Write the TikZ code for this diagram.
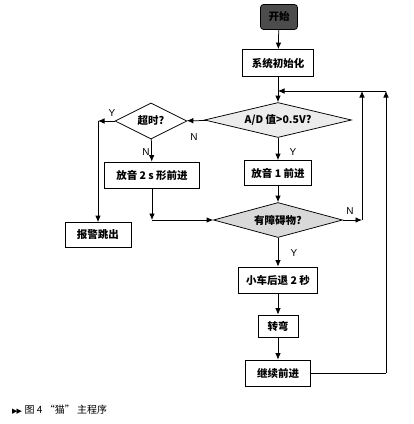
\documentclass[tikz,border=0pt]{standalone}
\usepackage{fontspec}
\setmainfont{Liberation Sans}
\newfontfamily\cjk{Noto Sans CJK SC}
\newfontfamily\symf{DejaVu Sans}
\usetikzlibrary{shapes.geometric,arrows.meta}
\tikzset{
  box/.style={draw,line width=0.75pt,inner sep=0pt,font=\cjk\bfseries\fontsize{10.5}{12}\selectfont},
  dia/.style={draw,diamond,line width=0.75pt,inner sep=0pt,font=\cjk\bfseries\fontsize{10.5}{12}\selectfont},
  arr/.style={line width=0.75pt,-{Latex[length=6.5pt,width=5.5pt]}},
  ln/.style={line width=0.75pt},
  lab/.style={font=\fontsize{10}{12}\selectfont,inner sep=0pt}
}
\begin{document}
\begin{tikzpicture}[x=1pt,y=-1pt]
\useasboundingbox (0,0) rectangle (414,424);
\node[box,fill=black!70,rounded corners=3pt,minimum width=37pt,minimum height=25pt] (start) at (279,17) {开始};
\node[box,minimum width=71pt,minimum height=27pt] (init) at (278,63) {系统初始化};
\coordinate (m) at (278,91);
\node[dia,fill=gray!15,minimum width=147pt,minimum height=35pt,aspect=4.2] (ad) at (278,120) {A/D 值>0.5V?};
\node[dia,minimum width=72pt,minimum height=36pt,aspect=2] (to) at (151,121) {超时?};
\node[box,minimum width=95pt,minimum height=26pt] (p2) at (152,175) {放音 2 s 形前进};
\node[box,minimum width=67pt,minimum height=25pt] (p1) at (278,173) {放音 1 前进};
\node[box,minimum width=66pt,minimum height=25pt] (alarm) at (98,235) {报警跳出};
\node[dia,fill=gray!30,minimum width=129pt,minimum height=35pt,aspect=3.7] (ob) at (278,220) {有障碍物?};
\node[box,minimum width=79pt,minimum height=26pt] (back) at (278,280) {小车后退 2 秒};
\node[box,minimum width=40pt,minimum height=22pt] (turn) at (278,326) {转弯};
\node[box,minimum width=65pt,minimum height=26pt] (cont) at (278,373) {继续前进};
\coordinate (ty) at (98,121);
\coordinate (pc) at (152,220);
\coordinate (on) at (362,220);
\coordinate (onu) at (362,91);
\coordinate (cr) at (386,373);
\coordinate (cru) at (386,91);
\draw[arr] (start) -- (init);
\draw[ln] (init) -- (m);
\draw[arr] (m) -- (ad);
\draw[arr] (ad) -- (to);
\draw[arr] (to) -- (ty);
\draw[arr] (ty) -- (alarm);
\draw[arr] (to) -- (p2);
\draw[arr] (ad) -- (p1);
\draw[arr] (p1) -- (ob);
\draw[arr] (p2) -- (pc);
\draw[arr] (pc) -- (ob);
\draw[arr] (ob) -- (on);
\draw[arr] (on) -- (onu);
\draw[arr] (ob) -- (back);
\draw[arr] (back) -- (turn);
\draw[arr] (turn) -- (cont);
\draw[ln] (cont) -- (cr);
\draw[arr] (cr) -- (cru);
\draw[arr] (cru) -- (m);
\node[lab] (l1) at (112,113) {Y};
\node[lab] (l2) at (146,152) {N};
\node[lab] (l3) at (194,137) {N};
\node[lab] (l4) at (293,152) {Y};
\node[lab] (l5) at (350,211) {N};
\node[lab] (l6) at (294,253) {Y};
\node[anchor=west,inner sep=0pt,font=\fontsize{10}{12}\selectfont] (cap) at (12,410) {{\symf\fontsize{7}{8}\selectfont ▶\kern-1pt▶}\ {\cjk 图 4 “猫” 主程序}};
\end{tikzpicture}
\end{document}
